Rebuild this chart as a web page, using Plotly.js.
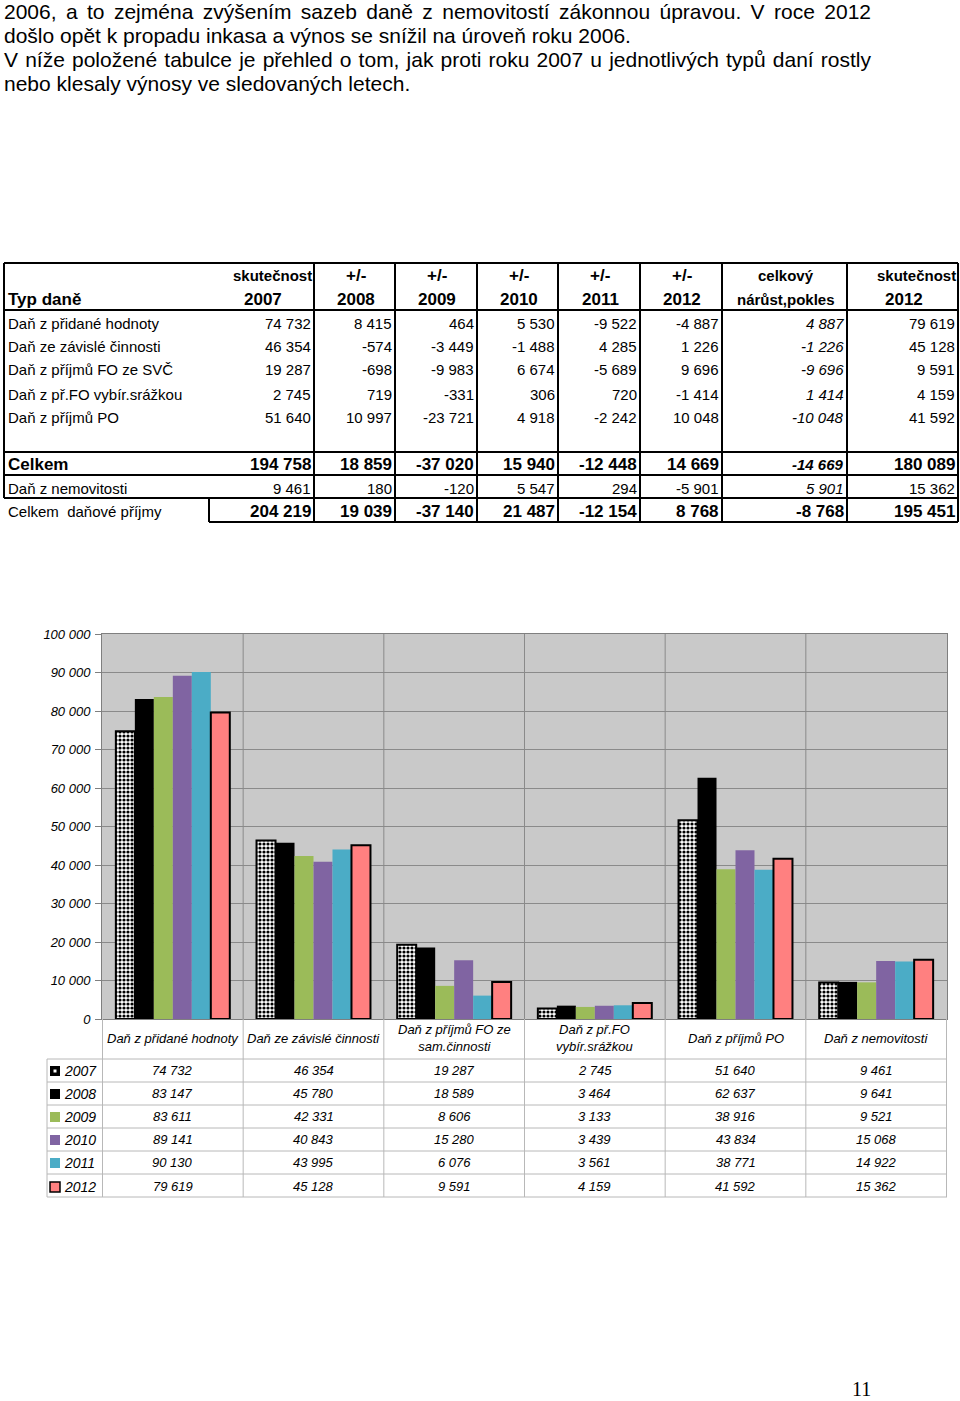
<!DOCTYPE html>
<html>
<head>
<meta charset="utf-8">
<script src="https://cdn.plot.ly/plotly-3.0.1.min.js"></script>
<style>
  html, body { margin:0; padding:0; background:#fff; }
  #wrap { position:relative; width:960px; height:1401px; overflow:hidden; }
  #chart { position:absolute; left:0; top:0; width:960px; height:1401px; }
  #para { position:absolute; left:4px; top:0px; width:867px; z-index:5;
          font-family:'Liberation Sans', Arial, sans-serif; font-size:21px; line-height:24px; color:#000; }
  #para div { white-space:nowrap; }
  #para .j { text-align:justify; text-align-last:justify; white-space:normal; }
</style>
</head>
<body>
<div id="wrap">
  <div id="chart"></div>
  <div id="para">
    <div class="j">2006, a to zejména zvýšením sazeb daně z nemovitostí zákonnou úpravou. V roce 2012</div>
    <div>došlo opět k propadu inkasa a výnos se snížil na úroveň roku 2006.</div>
    <div class="j">V níže položené tabulce je přehled o tom, jak proti roku 2007 u jednotlivých typů daní rostly</div>
    <div>nebo klesaly výnosy ve sledovaných letech.</div>
  </div>
</div>
<script>
// ---------- DATA: upper table ----------
const rowLabels = ['Daň z přidané hodnoty','Daň ze závislé činnosti','Daň z příjmů FO ze SVČ','Daň z př.FO vybír.srážkou','Daň z příjmů PO','','Celkem','Daň z nemovitosti','Celkem  daňové příjmy'];
const headLine1 = ['skutečnost','+/-','+/-','+/-','+/-','+/-','celkový','skutečnost'];
const headLine2 = ['2007','2008','2009','2010','2011','2012','nárůst,pokles','2012'];
const skut2007 = [74732,46354,19287,2745,51640,null,194758,9461,204219];
const diff2008 = [8415,-574,-698,719,10997,null,18859,180,19039];
const diff2009 = [464,-3449,-9983,-331,-23721,null,-37020,-120,-37140];
const diff2010 = [5530,-1488,6674,306,4918,null,15940,5547,21487];
const diff2011 = [-9522,4285,-5689,720,-2242,null,-12448,294,-12154];
const diff2012 = [-4887,1226,9696,-1414,10048,null,14669,-5901,8768];
const celkovy  = [4887,-1226,-9696,1414,-10048,null,-14669,5901,-8768];
const skut2012 = [79619,45128,9591,4159,41592,null,180089,15362,195451];
const tableCols = [skut2007,diff2008,diff2009,diff2010,diff2011,diff2012,celkovy,skut2012];

// ---------- DATA: chart ----------
const categories = ['Daň z přidané hodnoty','Daň ze závislé činnosti','Daň z příjmů FO ze<br>sam.činnosti','Daň z př.FO<br>vybír.srážkou','Daň z příjmů PO','Daň z nemovitosti'];
const years = ['2007','2008','2009','2010','2011','2012'];
const v2007 = [74732,46354,19287,2745,51640,9461];
const v2008 = [83147,45780,18589,3464,62637,9641];
const v2009 = [83611,42331,8606,3133,38916,9521];
const v2010 = [89141,40843,15280,3439,43834,15068];
const v2011 = [90130,43995,6076,3561,38771,14922];
const v2012 = [79619,45128,9591,4159,41592,15362];
const series = [v2007,v2008,v2009,v2010,v2011,v2012];
const pageNumber = '11';

// ---------- helpers ----------
const W = 960, H = 1401;
const px = x => x / W;
const py = y => 1 - y / H;
const FONT = 'Liberation Sans, Arial, sans-serif';
function fmt(n){ const s = Math.abs(n).toString().replace(/\B(?=(\d{3})+(?!\d))/g,' '); return (n<0?'-':'') + s; }
function txt(x,y,text,o){
  o = o||{};
  return {xref:o.xref||'paper', yref:'paper', x:(o.xref==='x'?x:px(x)), y:py(y), text:text, showarrow:false,
          xanchor:o.anchor||'left', yanchor:'middle', align:o.align||'center',
          font:{family:o.family||FONT, size:o.size||15, color:'#000', weight:o.bold?'bold':'normal', style:o.italic?'italic':'normal'}};
}
function line(x0,y0,x1,y1,color,width,xref){
  return {type:'line', xref:xref||'paper', yref:'paper',
          x0:(xref==='x'?x0:px(x0)), x1:(xref==='x'?x1:px(x1)), y0:py(y0), y1:py(y1),
          line:{color:color, width:width}, layer:'above'};
}

const annotations = [];
const shapes = [];

// ---------- upper table ----------
const colEdges = [4,209,314,395,477,558,640,722,847,958];
const rowY = [323,347,370,394,418,441,464,488,511];
// header
annotations.push(txt(6,299,'Typ daně',{bold:true,size:17}));
headLine1.forEach((t,i)=>{
  const l = colEdges[i+1], r = colEdges[i+2];
  const big = t === '+/-';
  if (t === 'skutečnost') annotations.push(txt(r,276,t,{bold:true,size:15,anchor:'right'}));
  else annotations.push(txt((l+r)/2+1,276,t,{bold:true,size:big?17:15,anchor:'center'}));
});
headLine2.forEach((t,i)=>{
  const l = colEdges[i+1], r = colEdges[i+2];
  const small = t.length > 5;
  annotations.push(txt((l+r)/2+1,299,t,{bold:true,size:small?15:17,anchor:'center'}));
});
// body
rowLabels.forEach((lab,r)=>{
  if (lab) annotations.push(txt(6,rowY[r],lab,{bold:r===6,size:r===6?17:15}));
  tableCols.forEach((col,c)=>{
    const v = col[r];
    if (v === null) return;
    const bold = (r===6 || r===8);
    const italic = (c===6 && r!==8);
    const size = bold ? ((c===6 && r===6) ? 15 : 17) : 15;
    annotations.push(txt(colEdges[c+2]-1, rowY[r], fmt(v), {bold, italic, size, anchor:'right'}));
  });
});
// borders
const B = '#000', BW = 2;
[[263,4],[310,4],[452,4],[475,4],[498,4],[522,209]].forEach(([y,x0])=>shapes.push(line(x0,y,958,y,B,BW)));
shapes.push(line(4,263,4,498,B,BW));
shapes.push(line(209,498,209,522,B,BW));
colEdges.slice(2).forEach(x=>shapes.push(line(x,263,x,522,B,BW)));

// ---------- chart ----------
const plotL = 102, plotR = 947, plotT = 634, plotB = 1019;
const colors = ['#ffffff','#000000','#9BBB59','#8064A2','#4BACC6','#FF8080'];
const traces = series.map((vals,k)=>{
  const t = {type:'bar', x:categories, y:vals, name:years[k], showlegend:false, hoverinfo:'x+y',
             marker:{color:colors[k], line:{color:'#000', width:(k===0||k===5)?2:0}}};
  if (k===0) t.marker.pattern = {shape:'.', fgcolor:'#000', bgcolor:'#fff', size:4, solidity:0.5};
  return t;
});

// category separators inside plot
for (let i=0;i<categories.length-1;i++){
  shapes.push(line(i+0.5,plotT,i+0.5,plotB,'#8a8a8a',1,'x'));
}
// data table below chart
const G = '#b8b8b8';
const tblRows = [1059,1082,1105,1128,1151,1174,1197];
tblRows.forEach(y=>shapes.push(line(47,y,plotR,y,G,1)));
shapes.push(line(47,1059,47,1197,G,1));
for (let i=0;i<=categories.length;i++){
  shapes.push(line(i-0.5,plotB,i-0.5,1197,G,1,'x'));
}
// category labels
categories.forEach(c=>annotations.push(txt(c,1038,c,{xref:'x',anchor:'center',italic:true,size:13})));
// values + legend keys
const rowY2 = [1070,1093,1116,1139,1162,1186];
series.forEach((vals,k)=>{
  const y = rowY2[k];
  vals.forEach((v,i)=>annotations.push(txt(categories[i],y,fmt(v),{xref:'x',anchor:'center',italic:true,size:13})));
  annotations.push(txt(61.5,y+1,years[k],{italic:true,size:14}));
  const key = {type:'rect', xref:'paper', yref:'paper', x0:px(50), x1:px(60), y0:py(y+6), y1:py(y-4),
               fillcolor: k===0 ? '#000' : colors[k], line:{width:(k===5)?1.5:0, color:'#000'}, layer:'above'};
  shapes.push(key);
  if (k===0) shapes.push({type:'rect', xref:'paper', yref:'paper', x0:px(53.5), x1:px(56.5), y0:py(y+2.5), y1:py(y-0.5),
                          fillcolor:'#fff', line:{width:0}, layer:'above'});
});

// page number
annotations.push(txt(861,1389,pageNumber,{anchor:'center',size:20,family:'Liberation Serif, serif'}));

const layout = {
  width: W, height: H,
  margin:{l:0,r:0,t:0,b:0},
  paper_bgcolor:'#fff',
  plot_bgcolor:'#c9c9c9',
  separators:', ',
  barmode:'group', bargap:0.19, bargroupgap:0,
  showlegend:false,
  xaxis:{domain:[px(plotL), px(plotR)], type:'category', showticklabels:false, ticks:'',
         showline:true, linecolor:'#7f7f7f', linewidth:1, mirror:true, showgrid:false, fixedrange:true},
  yaxis:{domain:[py(plotB), py(plotT)], range:[0,100000], dtick:10000, tickformat:',d',
         showgrid:true, gridcolor:'#8a8a8a', gridwidth:1, zeroline:false,
         showline:true, linecolor:'#7f7f7f', linewidth:1, mirror:true,
         ticks:'outside', ticklen:6, tickcolor:'#7f7f7f', ticklabelstandoff:2,
         tickfont:{family:FONT, size:13, color:'#000', style:'italic'}, fixedrange:true},
  annotations: annotations,
  shapes: shapes
};

Plotly.newPlot('chart', traces, layout, {displayModeBar:false, staticPlot:true});
</script>
</body>
</html>
